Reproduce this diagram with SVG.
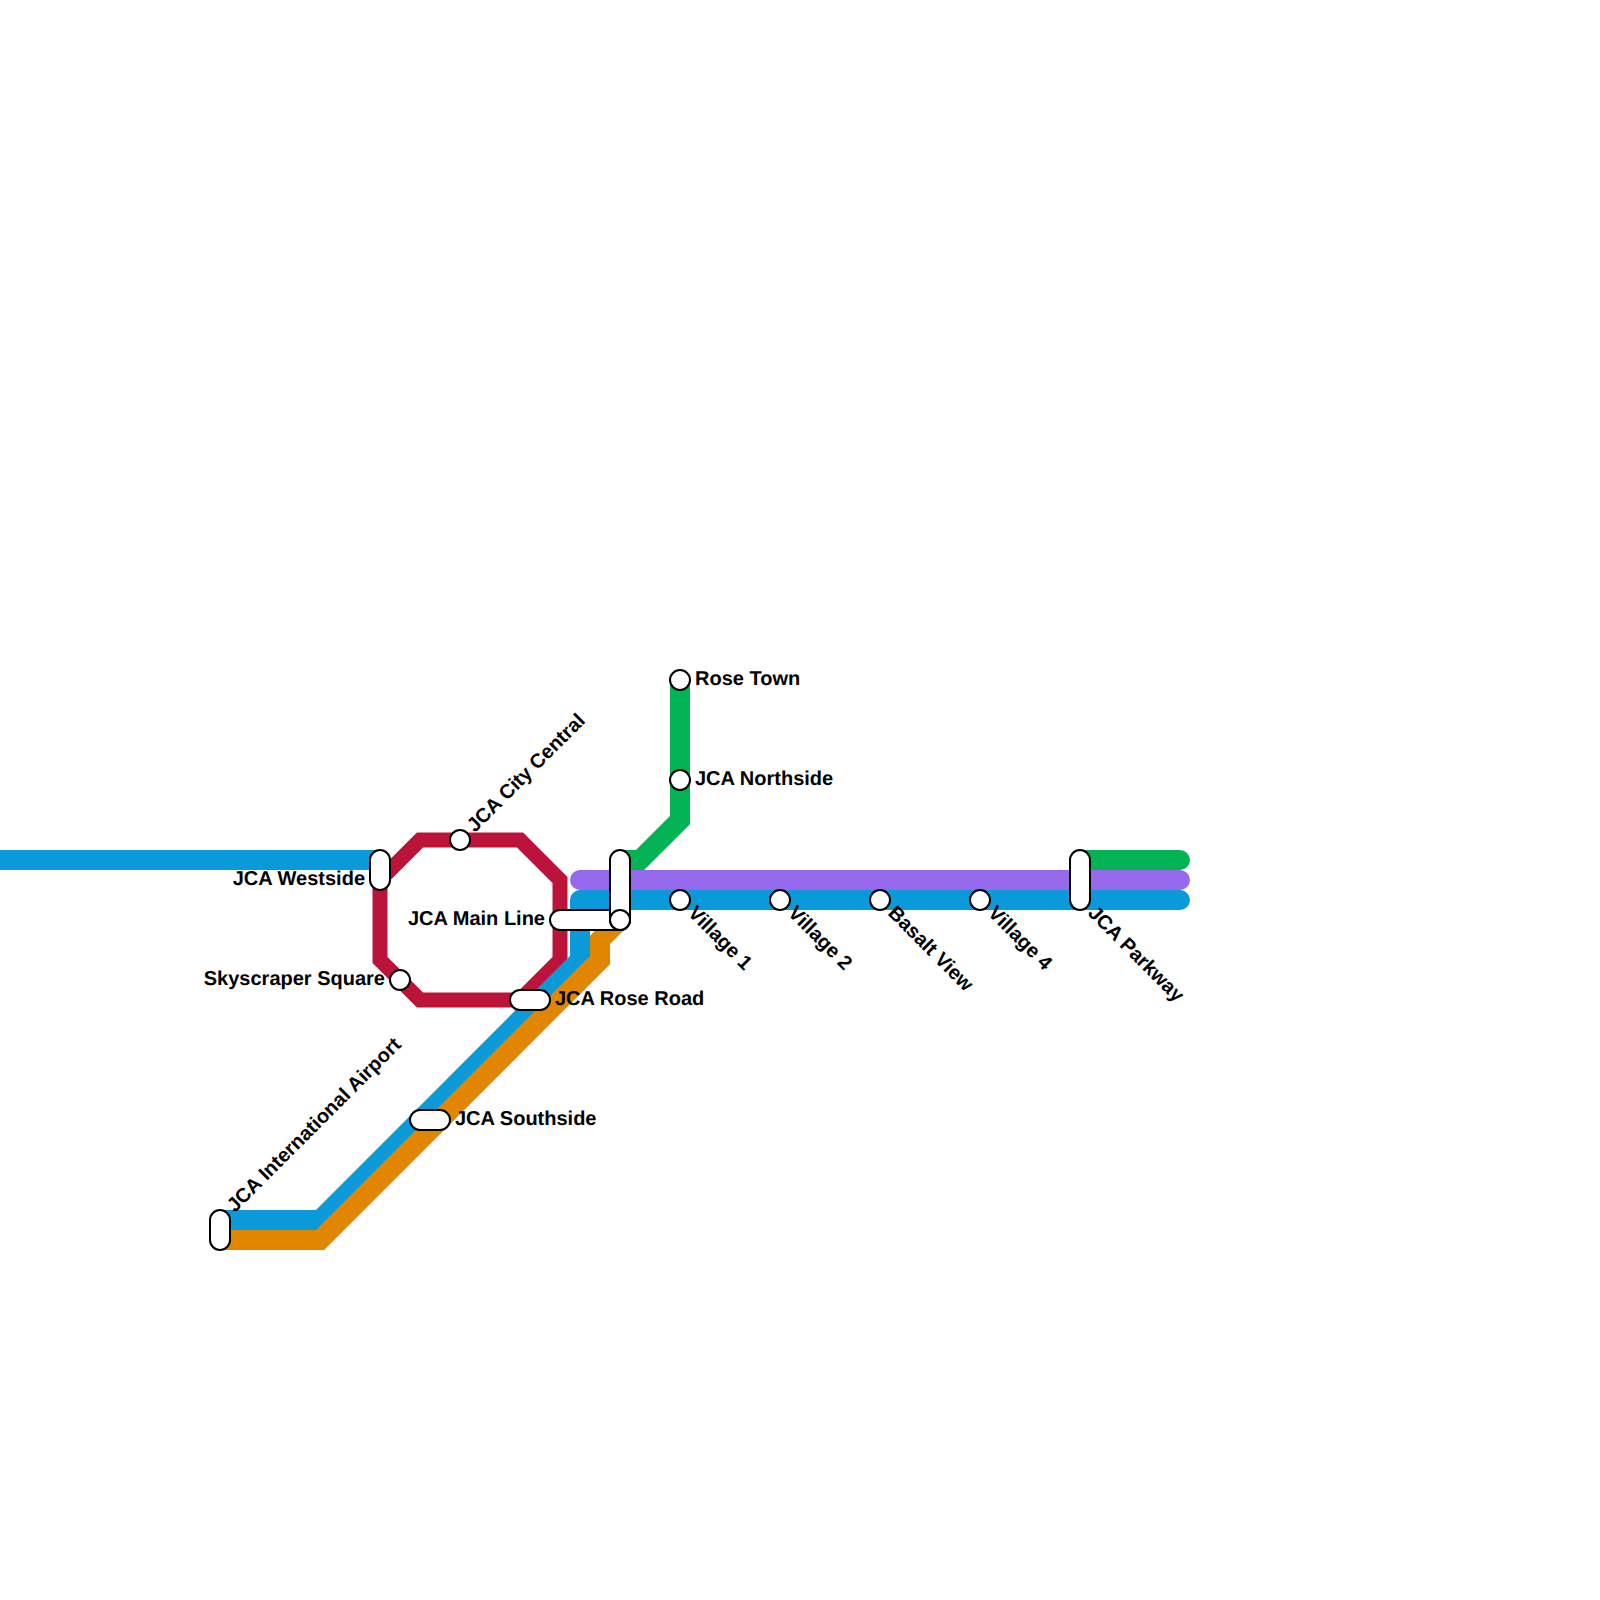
<svg xmlns="http://www.w3.org/2000/svg" width="1600" height="1600" viewBox="0 0 1600 1600">
<style>
.l{fill:none;stroke-width:20;stroke-linecap:butt;stroke-linejoin:miter}
.r{stroke-linecap:round}
.s{fill:#fff;stroke:#000;stroke-width:2}
text{font-family:"Liberation Sans",Arial,sans-serif;font-weight:700;font-size:20px;fill:#000;text-rendering:geometricPrecision}
.e{text-anchor:end}
</style>
<rect width="1600" height="1600" fill="#fff"/>
<g id="connectors">
<path class="l" d="M0 860H380" stroke="#0a99d9"/>
<path class="l" style="stroke-width:15" d="M380 880L420 840H520L560 880V960L520 1000H420L380 960Z" stroke="#bc133a"/>
<path class="l" d="M620 860H640L680 820V680" stroke="#02b354"/>
<path class="l r" d="M1080 860H1180" stroke="#02b354"/>
<path class="l r" d="M580 880H1180" stroke="#9568ec"/>
<path class="l" d="M220 1220H320L580 960V900" stroke="#0a99d9"/>
<path class="l r" d="M580 900H1180" stroke="#0a99d9"/>
<path class="l" d="M220 1240H320L600 960V940L620 920" stroke="#e08600"/>
</g>
<g id="jca-westside"><rect class="s" x="370" y="850" width="20" height="40" rx="10"/><text class="e" x="365" y="884.7">JCA Westside</text></g>
<g id="jca-city-central"><circle class="s" cx="460" cy="840" r="10"/><text transform="translate(475 833) rotate(-45)">JCA City Central</text></g>
<g id="skyscraper-square"><circle class="s" cx="400" cy="980" r="10"/><text class="e" x="385" y="984.7">Skyscraper Square</text></g>
<g id="jca-main-line"><rect class="s" x="550" y="910" width="80" height="20" rx="10"/><rect class="s" x="610" y="850" width="20" height="80" rx="10"/><circle class="s" cx="620" cy="920" r="10"/><text class="e" x="545" y="924.7">JCA Main Line</text></g>
<g id="jca-rose-road"><rect class="s" x="510" y="990" width="40" height="20" rx="10"/><text x="555" y="1004.7">JCA Rose Road</text></g>
<g id="jca-southside"><rect class="s" x="410" y="1110" width="40" height="20" rx="10"/><text x="455" y="1124.7">JCA Southside</text></g>
<g id="jca-international-airport"><rect class="s" x="210" y="1210" width="20" height="40" rx="10"/><text transform="translate(235 1213) rotate(-45)">JCA International Airport</text></g>
<g id="rose-town"><circle class="s" cx="680" cy="680" r="10"/><text x="695" y="684.7">Rose Town</text></g>
<g id="jca-northside"><circle class="s" cx="680" cy="780" r="10"/><text x="695" y="784.7">JCA Northside</text></g>
<g id="village-1"><circle class="s" cx="680" cy="900" r="10"/><text transform="translate(687 914) rotate(45)">Village 1</text></g>
<g id="village-2"><circle class="s" cx="780" cy="900" r="10"/><text transform="translate(787 914) rotate(45)">Village 2</text></g>
<g id="basalt-view"><circle class="s" cx="880" cy="900" r="10"/><text transform="translate(887 914) rotate(45)">Basalt View</text></g>
<g id="village-4"><circle class="s" cx="980" cy="900" r="10"/><text transform="translate(987 914) rotate(45)">Village 4</text></g>
<g id="jca-parkway"><rect class="s" x="1070" y="850" width="20" height="60" rx="10"/><text transform="translate(1087 914) rotate(45)">JCA Parkway</text></g>
</svg>
